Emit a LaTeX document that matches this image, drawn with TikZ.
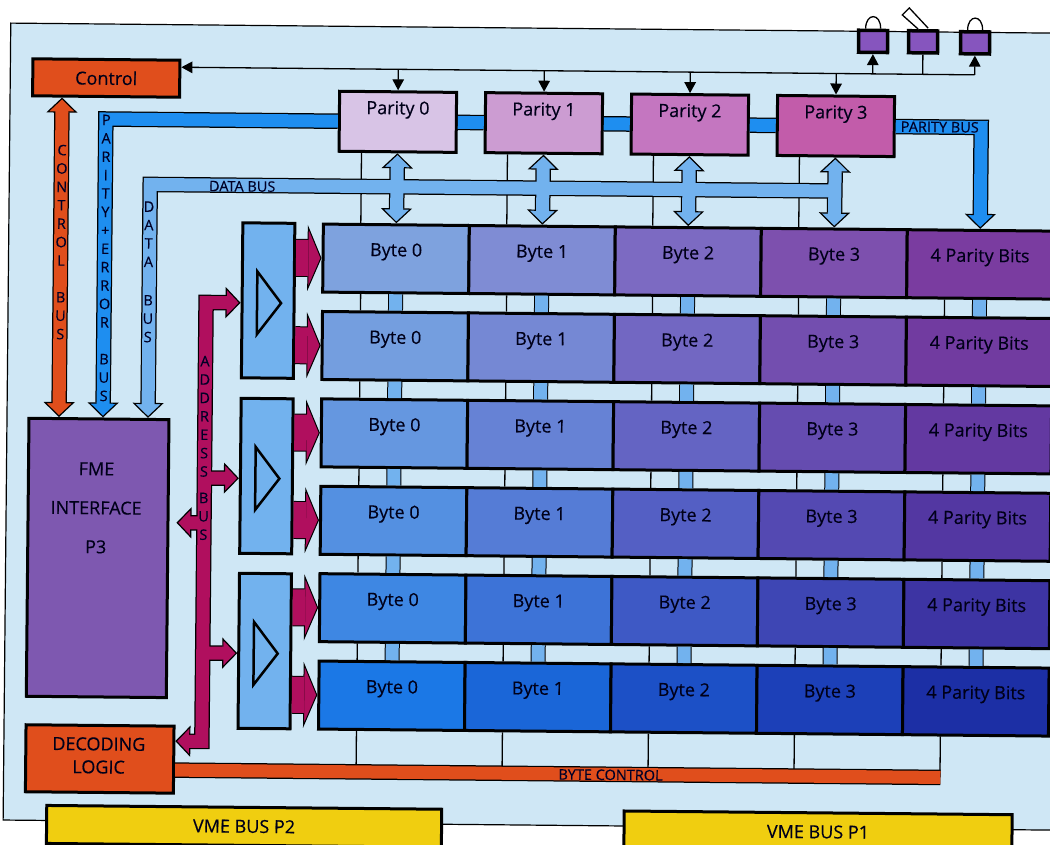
\documentclass[tikz,border=0pt]{standalone}
\usepackage{xcolor}
\usepackage{fontspec}
\setmainfont{Open Sans}[FakeBold=0.3]
\usetikzlibrary{arrows.meta}

\definecolor{panelblue}{HTML}{CFE7F5}
\definecolor{orangebus}{HTML}{E04E1C}
\definecolor{magentabus}{HTML}{B00F5E}
\definecolor{parbusblue}{HTML}{1E8EF0}
\definecolor{databusblue}{HTML}{72B2EE}
\definecolor{fmepurple}{HTML}{7E58B0}
\definecolor{vmeyellow}{HTML}{F0CE10}
\definecolor{switchpurple}{HTML}{8655BE}
\definecolor{par0}{HTML}{D8C4E6}
\definecolor{par1}{HTML}{CC9CD2}
\definecolor{par2}{HTML}{C476C0}
\definecolor{par3}{HTML}{C25CAA}
% top row and bottom row of each column
\definecolor{up0}{HTML}{7EA2DE}
\definecolor{up1}{HTML}{7F8CD4}
\definecolor{up2}{HTML}{7C6AC2}
\definecolor{up3}{HTML}{7D50AE}
\definecolor{up4}{HTML}{7A3CA0}
\definecolor{low0}{HTML}{1B78E6}
\definecolor{low1}{HTML}{1A66D8}
\definecolor{low2}{HTML}{1C50C6}
\definecolor{low3}{HTML}{1C40B8}
\definecolor{low4}{HTML}{1C2FA5}

\tikzset{
  box/.style={draw=black, line width=3pt, inner sep=0pt, text=black!90!blue},
  cell/.style={box, minimum width=146pt, minimum height=68pt, font=\fontsize{18}{20}\selectfont, text height=7pt, text depth=12pt},
  parbox/.style={box, minimum width=117pt, minimum height=60pt, font=\fontsize{18}{20}\selectfont, text height=7pt, text depth=22pt},
  bufbox/.style={box, fill=databusblue, minimum width=52pt, minimum height=155pt},
  switchbox/.style={box, line width=3.5pt, fill=switchpurple, minimum width=29pt, minimum height=22pt},
  bigtext/.style={font=\fontsize{18}{20}\selectfont, text=black!90!blue, inner sep=0pt},
  bustext/.style={font=\fontsize{14.5}{16}\selectfont, text=black!85!blue, inner sep=0pt},
  stacktext/.style={font=\fontsize{14.5}{18.4}\selectfont, text=black!85!blue, inner sep=0pt, align=center},
  wire/.style={black, line width=1.3pt},
  wiretip/.style={wire, -{Triangle[length=11pt,width=11.5pt]}},
  busout/.style={black, line width=15.5pt},
  busin/.style={draw=#1, line width=13pt},
  headend/.style={-{Triangle[width=31pt,length=15pt,color=black,fill=#1,line width=1.2pt]}},
  headboth/.style={{Triangle[width=31pt,length=15pt,color=black,fill=#1,line width=1.2pt]}-{Triangle[width=31pt,length=15pt,color=black,fill=#1,line width=1.2pt]}},
  fatout/.style={black, line width=38pt, -{Triangle[width=66pt,length=14pt,color=black,fill=magentabus,line width=1pt]}},
  fatin/.style={magentabus, line width=36pt, shorten >=13pt},
}

\begin{document}
\begin{tikzpicture}[x=1pt,y=-1pt]
\useasboundingbox (0,0) rectangle (1050,845);
\clip (0,0) rectangle (1050,845);
\begin{scope}[rotate=-0.55,transform shape]

\draw[fill=panelblue, line width=1.2pt] (11,23) rectangle (1100,820);

% boxes
\node[box, fill=orangebus, minimum width=147pt, minimum height=37pt, font=\fontsize{18}{20}\selectfont] (ctrl) at (107,77) {Control};
\node[box, fill=fmepurple, minimum width=140pt, minimum height=278pt] (fme) at (103,557) {};
\node[bigtext, align=center, font=\fontsize{18}{39}\selectfont] (fmetext) at (101,507) {FME\\INTERFACE\\P3};
\node[box, fill=orangebus, minimum width=148pt, minimum height=67pt] (dec) at (107,758) {};
\node[bigtext, align=center, font=\fontsize{18}{23}\selectfont] (dectext) at (106,754.5) {DECODING\\LOGIC};
\node[box, fill=vmeyellow, minimum width=395pt, minimum height=38pt, font=\fontsize{18}{20}\selectfont] (vmetwo) at (252,824) {VME BUS P2};
\node[box, fill=vmeyellow, minimum width=388pt, minimum height=38pt, font=\fontsize{18}{20}\selectfont] (vmeone) at (826,824) {VME BUS P1};

\foreach \i/\x in {0/399,1/545,2/691,3/837}
  \node[parbox, fill=par\i] (par\i) at (\x,118) {Parity \i};

\foreach \row/\y/\pct in {0/255/100,1/342.4/90,2/429.8/75,3/517.2/58,4/604.6/35,5/692/0}
  \foreach \col/\x/\txt in {0/398.5/Byte 0,1/544.5/Byte 1,2/690.5/Byte 2,3/836.5/Byte 3,4/982.5/4 Parity Bits}
    \node[cell, fill=up\col!\pct!low\col] (byte\row\col) at (\x,\y) {\txt};

\foreach \i/\y in {0/298,1/473.5,2/648.5}{
  \node[bufbox] (buf\i) at (271,\y) {};
  \draw[black, line width=2.5pt, fill=databusblue] ([shift={(-11pt,29pt)}]buf\i.center) -- ([shift={(13pt,-2.5pt)}]buf\i.center) -- ([shift={(-11pt,-34pt)}]buf\i.center) -- cycle;
}

\node[switchbox] (swa) at (873.5,33) {};
\node[switchbox] (swb) at (923.5,33) {};
\node[switchbox] (swc) at (975.5,33.5) {};

% control wires
\coordinate (wirelevel) at (0,65.5);
\draw[wiretip] (swc |- wirelevel) -- (ctrl.east |- wirelevel);
\draw[wiretip] (swc |- wirelevel) -- (swc.south);
\draw[wiretip] (swa |- wirelevel) -- (swa.south);
\draw[wire] (swb |- wirelevel) -- (swb.south);
\foreach \i in {0,...,3}
  \draw[wiretip] (par\i |- wirelevel) -- (par\i.north);

% locks and the lever on top
\draw[wire] ([xshift=-7.5pt]swa.north) .. controls +(0,-16) and +(0,-16) .. ([xshift=7.5pt]swa.north);
\draw[wire] ([xshift=-7.5pt]swc.north) .. controls +(0,-16) and +(0,-16) .. ([xshift=7.5pt]swc.north);
\draw[wire, fill=white] ([shift={(-5pt,0pt)}]swb.north) -- ([shift={(-21pt,14pt)}]swb.north) -- ([shift={(-14pt,21pt)}]swb.north) -- ([shift={(5pt,1pt)}]swb.north);

% thin lines behind the buses
\foreach \i in {0,...,3}
  \draw[wire] ([xshift=-36pt]par\i.south) -- ([xshift=-36pt]par\i.south |- byte0\i.north);
\foreach \col in {0,...,4}
  \foreach \row/\rowbelow in {0/1,1/2,2/3,3/4,4/5}{
    \draw[wire] ([xshift=-35pt]byte\row\col.south) -- ([xshift=-35pt]byte\rowbelow\col.north);
    \draw[black, line width=15pt, postaction={draw=databusblue, line width=13pt}] (byte\row\col.south) -- (byte\rowbelow\col.north);
  }
\coordinate (barend) at (948,768.5);
\foreach \col in {0,...,4}
  \draw[wire] ([xshift=-35pt]byte5\col.south) -- ([xshift=-35pt]byte5\col.south |- barend);

% byte control
\draw[black, line width=15.5pt, postaction={draw=orangebus, line width=13pt}] (dec.east |- barend) -- (barend);
\node[bustext] (bytectl) at (618,769) {BYTE CONTROL};

% control bus
\draw[busout, headboth=orangebus] (ctrl.south -| 63,0) -- (fme.north -| 63,0);
\draw[busin=orangebus, shorten >=13pt, shorten <=13pt] (ctrl.south -| 63,0) -- (fme.north -| 63,0);

% parity bus
\foreach \i/\j in {0/1,1/2,2/3}
  \draw[black, line width=15.5pt, postaction={draw=parbusblue, line width=13pt}] (par\i.east) -- (par\j.west);
\draw[busout, headend=parbusblue] (par0.west) -| (fme.north -| 107,0);
\draw[busin=parbusblue, shorten >=13pt] (par0.west) -| (fme.north -| 107,0);
\draw[busout, headend=parbusblue] (par3.east) -| (byte04.north);
\draw[busin=parbusblue, shorten >=13pt] (par3.east) -| (byte04.north);

% data bus
\coordinate (dbright) at (par3 |- 0,183);
\draw[busout, headend=databusblue] (dbright) -| (fme.north -| 152,0);
\foreach \i in {0,...,3}
  \draw[busout, headboth=databusblue] (par\i.south) -- (byte0\i.north);
\draw[busin=databusblue, shorten >=13pt] (dbright) -| (fme.north -| 152,0);
\foreach \i in {0,...,3}
  \draw[busin=databusblue, shorten >=13pt, shorten <=13pt] (par\i.south) -- (byte0\i.north);

% address bus
\coordinate (addrtop) at (209,300.5);
\coordinate (addrlow) at (209,739.5);
\draw[busout, headboth=magentabus] ([yshift=-2.5pt]buf0.west) -- (addrtop) -- (addrlow) -- (addrlow -| dec.east);
\draw[busout, headend=magentabus] (addrlow |- 0,476) -- ([yshift=-2.5pt]buf1.west);
\draw[busout, headend=magentabus] (addrlow |- 0,651) -- ([yshift=-2.5pt]buf2.west);
\draw[busout, headend=magentabus] (addrlow |- 0,521) -- ([xshift=7pt]fme.east |- 0,521);
\draw[busin=magentabus, shorten >=13pt, shorten <=13pt] ([yshift=-2.5pt]buf0.west) -- (addrtop) -- (addrlow) -- (addrlow -| dec.east);
\draw[busin=magentabus, shorten >=13pt] (addrlow |- 0,476) -- ([yshift=-2.5pt]buf1.west);
\draw[busin=magentabus, shorten >=13pt] (addrlow |- 0,651) -- ([yshift=-2.5pt]buf2.west);
\draw[busin=magentabus, shorten >=13pt] (addrlow |- 0,521) -- ([xshift=7pt]fme.east |- 0,521);

% buffer outputs
\foreach \i/\rowa/\rowb in {0/0/1,1/2/3,2/4/5}{
  \draw[fatout] (buf\i.east |- byte\rowa0.west) -- (byte\rowa0.west);
  \draw[fatin] (buf\i.east |- byte\rowa0.west) -- (byte\rowa0.west);
  \draw[fatout] (buf\i.east |- byte\rowb0.west) -- (byte\rowb0.west);
  \draw[fatin] (buf\i.east |- byte\rowb0.west) -- (byte\rowb0.west);
}

% bus labels
\node[bustext] (databuslabel) at (244,184) {DATA BUS};
\node[bustext] (parbuslabel) at (941,118) {PARITY BUS};
\node[stacktext] (ctrllabel) at (63.5,241.5) {C\\O\\N\\T\\R\\O\\L\\[18.4pt]B\\U\\S};
\node[stacktext] (parlabel) at (107.5,257) {P\\A\\R\\I\\T\\Y\\+\\E\\R\\R\\O\\R\\[18.4pt]B\\U\\S};
\node[stacktext] (datalabel) at (151,270.5) {D\\A\\T\\A\\[20pt]B\\U\\S};
\node[stacktext] (addrlabel) at (208.5,446) {A\\D\\D\\R\\E\\S\\S\\[8pt]B\\U\\S};

\end{scope}
\end{tikzpicture}
\end{document}
